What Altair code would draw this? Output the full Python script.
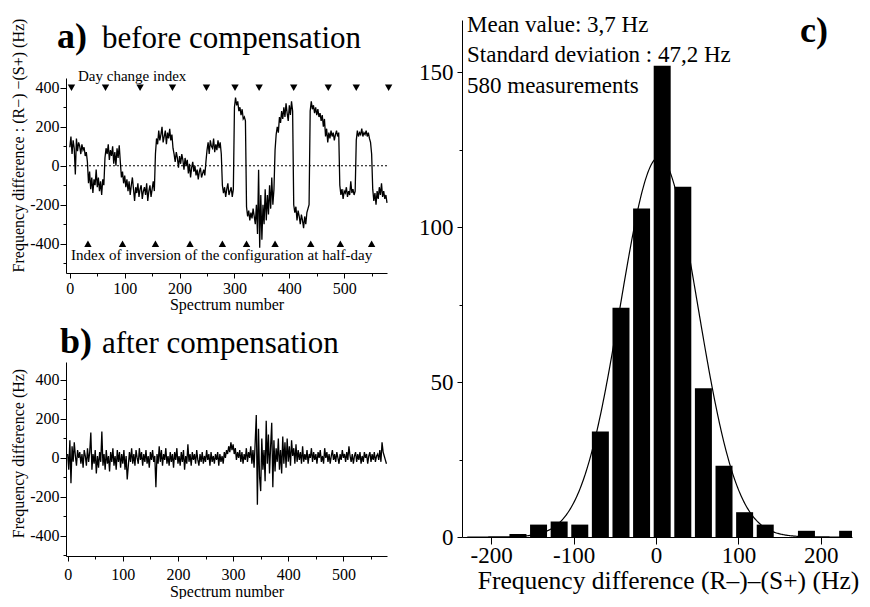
import altair as alt
import pandas as pd

# ---------------- data ----------------
# panel a: frequency difference before compensation, every 2nd spectrum (0, 2, 4, ...)
before_values = [
    95, 150, 60, 130, 90, -45, 140, 75, 120, 100, 60, 110, 80, 95, 50, 70, 20,
    -90, -30, -120, -60, -140, -70, -100, -20, -110, -60, -130, -80, -150, -70, -100,
    40, 90, 60, 110, 30, 80, 50, 100, 10, 70, 0, 90, 40, 105, 20,
    -60, -30, -90, -50, -110, -70, -130, -80, -150, -100, -60, -120, -180, -110, -140, -90,
    -160, -120, -100, -170, -130, -110, -150, -90, -180, -130, -100, -160, -120, -80, -130,
    60, 140, 110, 180, 130, 160, 200, 120, 150, 180, 110, 170, 140, 190, 130, 160, 90,
    60, 20, 70, 40, -10, 50, 10, 60, 30, -20, 40, 0, 30, -40, 10, -60, -10, 20, -30, 0,
    -50, -20, -70, -30, -10, -60, -40, -20, -50, 20,
    80, 120, 60, 130, 100, 90, 140, 70, 110, 80, 130, 90, 120, 60,
    -100, -140, -110, -160, -120, -90, -150, -130, -110, -160, -120,
    300, 350, 310, 330, 280, 300, 260, 290, 240, 250, 230,
    -210, -260, -230, -280, -240, -270, -220, -260, -300, -200, -350, -20, -420, -150, -380,
    -200, -300, -120, -280, -150, -250, -100, -220, -60, -200, -120,
    80, 160, 200, 170, 250, 220, 280, 240, 300, 250, 320, 270, 230, 310, 260, 330, 280,
    -200, -240, -210, -280, -230, -260, -300, -250, -280, -320, -260, -300, -240, -220, -200,
    280, 330, 290, 310, 270, 300, 260, 290, 250, 270, 230, 260, 200, 240, 150, 190, 120,
    170, 140, 180, 150, 170, 130, 160, 180, 150, 170,
    -100, -150, -120, -170, -130, -140, -110, -160, -130, -150, -80, -140, -120, -150, -130,
    130, 180, 150, 170, 160, 190, 150, 170, 160, 180, 150, 170, 140, 120, 60,
    -120, -180, -140, -200, -130, -170, -110, -150, -90, -160, -130, -170, -150, -190,
]

# panel b: frequency difference after compensation, every 2nd spectrum
after_values = [
    20, -60, 90, -130, 60, -20, 80, 10, -40, 40,
    0, 30, -30, 20, -50, 40, 10, -40, 50, -20,
    30, 130, -60, 20, -30, 40, -80, 10, -50, 30,
    -20, 135, -40, 20, -60, 40, -30, 10, -70, 30,
    -20, 50, -40, 10, -60, 40, -20, 30, -50, 20,
    -30, 40, -60, 10, -110, -40, 30, -20, 50, -30,
    20, -40, 40, 0, -30, 50, -10, 30, -40, 20,
    -20, 40, -30, 10, -50, 30, -10, 40, -20, 10,
    -150, 20, -30, 60, -20, 40, -40, 20, -10, 50,
    -30, 10, -40, 30, -20, 20, -50, 30, -10, 50,
    -30, 10, -40, 30, -20, 40, -60, 10, -30, 70,
    -20, 20, -40, 30, -10, 20, -30, 40, -10, -40,
    20, -20, 30, -30, 10, -20, 40, -10, 20, -40,
    30, -20, 10, -30, 20, -10, 30, -40, 20, -20,
    10, -30, 30, 0, 40, 20, 60, 30, 80, 40,
    70, 20, 50, -10, 30, 0, 40, -20, 30, -30,
    20, -10, 50, -20, 30, 0, 60, -30, 40, -50,
    80, 220, -240, 150, -100, -170, 100, -60, 40, -120,
    190, -30, 120, -80, 60, 180, -150, 90, -70, 50,
    -20, 100, -60, 40, -80, 110, -30, 80, -50, 100,
    -20, 60, -40, 90, 10, 50, -30, 70, -20, 40,
    -10, 30, -30, 60, -20, 20, -10, 40, -30, 20,
    0, 50, -20, 30, -10, 20, -30, 30, 0, 40,
    -20, 10, -30, 50, 0, 30, -20, 20, -30, 10,
    40, -10, 20, -20, 30, 0, -30, 20, -10, 40,
    0, 20, -20, 30, -10, 60, 10, -20, 20, -30,
    10, 30, -20, 20, -10, 30, -30, 10, -20, 30,
    0, 20, -30, 10, 30, -20, 20, -10, 30, -20,
    10, 20, -10, 40, -20, 80, 30, 10, -10, -30,
]
spectrum_step = 2

day_change_index = [3, 65, 128, 187, 249, 301, 345, 408, 471, 522, 581]
inversion_index = [33, 96, 156, 219, 278, 322, 374, 439, 493, 550]
day_marker_level = 400
inversion_marker_level = -400

# panel c: histogram
bin_centers = [-167.5, -142.5, -117.5, -92.5, -67.5, -42.5, -17.5, 7.5, 32.5,
               57.5, 82.5, 107.5, 132.5, 157.5, 182.5, 207.5, 232.5]
bin_counts = [1, 4, 5, 4, 34, 74, 106, 152, 113, 48, 23, 8, 4, 0, 2, 0, 2]
bin_width = 25
fit_mean = 3.7
fit_sd = 47.2
n_measurements = 580
stats_lines = ["Mean value: 3,7 Hz", "Standard deviation : 47,2 Hz", "580 measurements"]

# ---------------- styling helpers ----------------
FONT = "Liberation Serif"
BLACK = "black"
MINUS_FIX = "replace(datum.label, '\u2212', '-')"


def ax(**kw):
    base = dict(labelFont=FONT, labelColor=BLACK, domainColor=BLACK, tickColor=BLACK,
                grid=False, titleFont=FONT, titleFontWeight="normal", titleColor=BLACK,
                labelFlush=False, labelOverlap=False, domainWidth=1, tickWidth=1)
    base.update(kw)
    return alt.Axis(**base)


def label(text, x, y, size, weight="normal"):
    return alt.Chart(pd.DataFrame({"t": [text]})).mark_text(
        font=FONT, fontSize=size, fontWeight=weight, align="left",
        baseline="alphabetic", color=BLACK
    ).encode(text="t:N", x=alt.value(x), y=alt.value(y))


# ---------------- panel a ----------------
a_df = pd.DataFrame({"n": [spectrum_step * i for i in range(len(before_values))],
                     "v": before_values})
xs_a = alt.Scale(domain=[-7, 578], nice=False, zero=False)
ys_a = alt.Scale(domain=[-550, 450], nice=False, zero=False)

a_line = alt.Chart(a_df).mark_line(color=BLACK, strokeWidth=1.3).encode(
    x=alt.X("n:Q", scale=xs_a, axis=ax(values=[0, 100, 200, 300, 400, 500], orient="bottom",
                                       title="Spectrum number", tickSize=5, labelFontSize=16,
                                       labelPadding=2, titleFontSize=16, titlePadding=0)),
    y=alt.Y("v:Q", scale=ys_a, axis=ax(values=[-400, -200, 0, 200, 400], orient="left",
                                       title="Frequency difference : (R\u2212) \u2212(S+) (Hz)",
                                       tickSize=6, labelFontSize=16, labelPadding=1,
                                       labelExpr=MINUS_FIX, titleFontSize=16,
                                       titlePadding=3, titleY=67)),
)
a_minor = alt.Chart(a_df).mark_line(opacity=0).encode(
    x=alt.X("n:Q", scale=xs_a, axis=ax(values=[50, 150, 250, 350, 450, 550], orient="bottom",
                                       labels=False, domain=False, title=None, tickSize=3)),
    y=alt.Y("v:Q", scale=ys_a, axis=ax(values=[-500, -300, -100, 100, 300], orient="left",
                                       labels=False, domain=False, title=None, tickSize=3)),
)
a_zero = alt.Chart(pd.DataFrame({"z": [0]})).mark_rule(
    color=BLACK, strokeDash=[2, 2], strokeWidth=1
).encode(y=alt.Y("z:Q", scale=ys_a, axis=None))
a_day = alt.Chart(pd.DataFrame({"n": day_change_index,
                                "lv": [day_marker_level] * len(day_change_index)})).mark_point(
    shape="triangle-down", filled=True, color=BLACK, size=55, opacity=1
).encode(x=alt.X("n:Q", scale=xs_a, axis=None), y=alt.Y("lv:Q", scale=ys_a, axis=None))
a_inv = alt.Chart(pd.DataFrame({"n": inversion_index,
                                "lv": [inversion_marker_level] * len(inversion_index)})).mark_point(
    shape="triangle-up", filled=True, color=BLACK, size=55, opacity=1
).encode(x=alt.X("n:Q", scale=xs_a, axis=None), y=alt.Y("lv:Q", scale=ys_a, axis=None))

panel_a = alt.layer(
    a_minor, a_zero, a_line, a_day, a_inv,
    label("Day change index", 12, 3, 15),
    label("Index of inversion of the configuration at half-day", 5, 182, 15),
    label("a)", -9, -30, 36, "bold"),
    label("before compensation", 36, -30, 31),
).resolve_axis(x="independent", y="independent").properties(width=321, height=195)

# ---------------- panel b ----------------
b_df = pd.DataFrame({"n": [spectrum_step * i for i in range(len(after_values))],
                     "v": after_values})
xs_b = alt.Scale(domain=[-3, 579], nice=False, zero=False)
ys_b = alt.Scale(domain=[-503, 492], nice=False, zero=False)

b_line = alt.Chart(b_df).mark_line(color=BLACK, strokeWidth=1.3).encode(
    x=alt.X("n:Q", scale=xs_b, axis=ax(values=[0, 100, 200, 300, 400, 500], orient="bottom",
                                       title="Spectrum number", tickSize=5, labelFontSize=16,
                                       labelPadding=5, titleFontSize=16, titlePadding=1)),
    y=alt.Y("v:Q", scale=ys_b, axis=ax(values=[-400, -200, 0, 200, 400], orient="left",
                                       title="Frequency difference (Hz)",
                                       tickSize=6, labelFontSize=16, labelPadding=1,
                                       labelExpr=MINUS_FIX, titleFontSize=16,
                                       titlePadding=3, titleY=91)),
)
b_minor = alt.Chart(b_df).mark_line(opacity=0).encode(
    x=alt.X("n:Q", scale=xs_b, axis=ax(values=[50, 150, 250, 350, 450, 550], orient="bottom",
                                       labels=False, domain=False, title=None, tickSize=3)),
    y=alt.Y("v:Q", scale=ys_b, axis=ax(values=[-500, -300, -100, 100, 300], orient="left",
                                       labels=False, domain=False, title=None, tickSize=3)),
)
panel_b = alt.layer(
    b_minor, b_line,
    label("b)", -6, -9, 36, "bold"),
    label("after compensation", 36, -9, 31),
).resolve_axis(x="independent", y="independent").properties(width=321, height=194)

# ---------------- panel c ----------------
hist_df = pd.DataFrame({"center": bin_centers, "count": bin_counts})
xs_c = alt.Scale(domain=[-229.3, 231.7], nice=False, zero=False)
ys_c = alt.Scale(domain=[0, 166.8], nice=False, zero=False)

c_bars = alt.Chart(hist_df).mark_bar(color=BLACK, size=17, clip=True).encode(
    x=alt.X("center:Q", scale=xs_c,
            axis=ax(values=[-200, -100, 0, 100, 200], orient="bottom",
                    title="Frequency difference (R\u2013)\u2013(S+) (Hz)", tickSize=7,
                    labelFontSize=23, labelPadding=0, labelExpr=MINUS_FIX,
                    titleFontSize=25.5, titlePadding=1, titleX=206)),
    y=alt.Y("count:Q", scale=ys_c,
            axis=ax(values=[0, 50, 100, 150], orient="left", title=None, tickSize=5,
                    labelFontSize=23, labelPadding=4)),
)
c_minor = alt.Chart(hist_df).mark_bar(opacity=0, size=17).encode(
    x=alt.X("center:Q", scale=xs_c, axis=None),
    y=alt.Y("count:Q", scale=ys_c, axis=ax(values=[25, 75, 125], orient="left", labels=False,
                                           domain=False, title=None, tickSize=3)),
)
gauss = (f"{n_measurements * bin_width}/({fit_sd}*sqrt(2*PI))"
         f"*exp(-pow(datum.f-({fit_mean}),2)/(2*{fit_sd}*{fit_sd}))")
c_curve = alt.Chart(alt.sequence(-229, 232, 1, as_="f")).transform_calculate(
    g=gauss
).mark_line(color=BLACK, strokeWidth=1.2, clip=True).encode(
    x=alt.X("f:Q", scale=xs_c, axis=None),
    y=alt.Y("g:Q", scale=ys_c, axis=None),
)
panel_c = alt.layer(
    c_bars, c_minor, c_curve,
    label(stats_lines[0], 5, 12, 23),
    label(stats_lines[1], 5, 42, 23),
    label(stats_lines[2], 5, 73, 23),
    label("c)", 338, 22, 36, "bold"),
).resolve_axis(x="independent", y="independent").properties(width=390, height=517)

# ---------------- layout ----------------
spacer = alt.Chart(pd.DataFrame({"t": [""]})).mark_text().encode(
    text="t:N").properties(width=321, height=58)

left = alt.vconcat(spacer, alt.vconcat(panel_a, panel_b, spacing=89, bounds="flush"),
                   spacing=0, bounds="flush")
chart = alt.hconcat(left, panel_c, spacing=396, bounds="flush").properties(
    padding={"left": 2, "top": 5, "right": 0, "bottom": 0}
).configure_view(stroke=None)

chart.save("out.html", embed_options={"renderer": "svg", "actions": False})
